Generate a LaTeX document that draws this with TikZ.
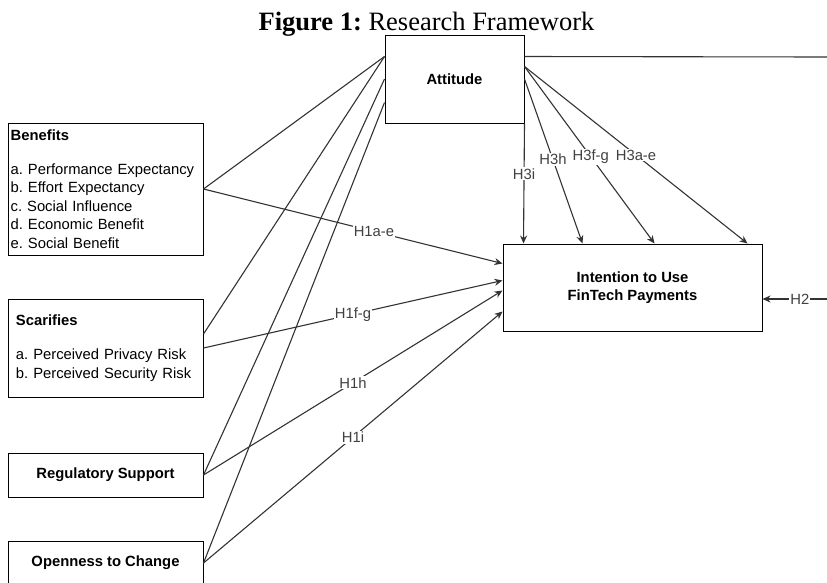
\documentclass[tikz,border=0pt]{standalone}
\usepackage{fontspec}
\setmainfont{Liberation Sans}
\newfontfamily\ttlfont{Liberation Serif}
\usetikzlibrary{arrows.meta}
\frenchspacing

\begin{document}
\begin{tikzpicture}[x=1pt, y=-1pt]

\tikzset{box/.style={draw=black, shape=rectangle, line width=1, inner sep=0, minimum width=195, font=\fontsize{14.8}{18.5}\selectfont}}
\tikzset{boldbox/.style={box, font=\fontsize{14.8}{18.5}\selectfont\bfseries}}
\tikzset{plain/.style={draw=black!80, line width=1.1}}
\tikzset{hyp/.style={plain, -{Stealth[length=8, width=7]}}}
\tikzset{hlabel/.style={fill=white, inner sep=1, text=black!75, font=\fontsize{14.8}{16}\selectfont}}

\useasboundingbox (0,0) rectangle (827,582);

\node[font=\ttlfont\fontsize{26.5}{30}\selectfont, anchor=base] (ttl) at (426.5,30) {\textbf{Figure 1:} Research Framework};

\node[boldbox, minimum width=139, minimum height=88] (att) at (454.5,79) {Attitude};
\node[boldbox, minimum width=259, minimum height=87, align=center] (int) at (632.5,287.5) {Intention to Use\\FinTech Payments};
\node[box, align=left, minimum height=132, inner xsep=2.7, text width=189.6] (ben) at (105.5,189) {\textbf{Benefits}\\[15.5pt]a. Performance Expectancy\\b. Effort Expectancy\\c. Social Influence\\d. Economic Benefit\\e. Social Benefit};
\node[box, align=left, minimum height=98, inner xsep=8, text width=179] (sca) at (105.5,348) {\textbf{Scarifies}\\[15.5pt]a. Perceived Privacy Risk\\b. Perceived Security Risk};
\node[boldbox, minimum height=44] (reg) at (105.5,475) {Regulatory Support};
\node[boldbox, minimum height=44] (opn) at (105.5,563) {Openness to Change};

\coordinate (fbtop) at (827,57);
\coordinate (fbside) at (827,299);

% predictors -> attitude
\draw[plain] (ben.east) -- ([yshift=-22]att.north west);
\draw[plain] ([yshift=14]sca.east) -- ([yshift=-22]att.north west);
\draw[plain] (reg.east) -- (att.west);
\draw[plain] (opn.east) -- ([yshift=21]att.south west);

% predictors -> intention
\draw[hyp] (ben.east) -- node[hlabel, pos=0.57]{H1a-e} ([yshift=-20]int.north west);
\draw[hyp] (sca.east) -- node[hlabel]{H1f-g} ([yshift=-37]int.north west);
\draw[hyp] (reg.east) -- node[hlabel]{H1h} ([yshift=-47]int.north west);
\draw[hyp] (opn.east) -- node[hlabel]{H1i} ([yshift=-68]int.north west);

% attitude -> intention
\draw[hyp] (att.south east) -- node[hlabel, pos=0.42]{H3i} ([xshift=21]int.north west);
\draw[hyp] (att.east) -- node[hlabel, pos=0.49]{H3h} ([xshift=80]int.north west);
\draw[hyp] ([yshift=-32]att.north east) -- node[hlabel, pos=0.51]{H3f-g} ([xshift=152]int.north west);
\draw[hyp] ([yshift=-32]att.north east) -- node[hlabel, pos=0.5]{H3a-e} ([xshift=245]int.north west);

% H2 loop
\draw[plain] ([yshift=-22]att.north east) -- (fbtop);
\draw[hyp] (fbside) -- node[hlabel, pos=0.42]{H2} ([yshift=-11.5]int.east);

\end{tikzpicture}
\end{document}
